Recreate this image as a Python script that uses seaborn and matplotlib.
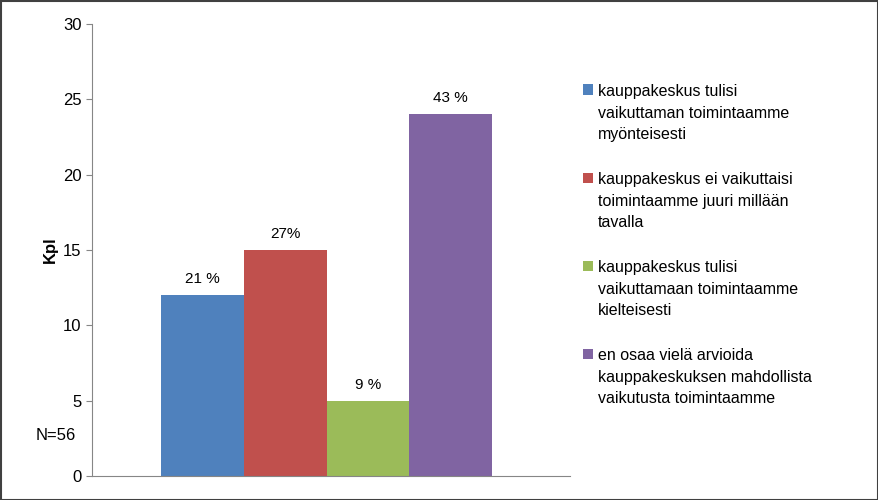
import pandas as pd
import matplotlib
matplotlib.use("Agg")
import matplotlib.pyplot as plt
import seaborn as sns

plt.rcParams["font.family"] = "Liberation Sans"

# Data
categories = [
    "kauppakeskus tulisi\nvaikuttaman toimintaamme\nmyönteisesti",
    "kauppakeskus ei vaikuttaisi\ntoimintaamme juuri millään\ntavalla",
    "kauppakeskus tulisi\nvaikuttamaan toimintaamme\nkielteisesti",
    "en osaa vielä arvioida\nkauppakeskuksen mahdollista\nvaikutusta toimintaamme",
]
counts = [12, 15, 5, 24]
pct_labels = ["21 %", "27%", "9 %", "43 %"]
colors = ["#4F81BD", "#C0504D", "#9BBB59", "#8064A2"]

df = pd.DataFrame({"cat": categories, "kpl": counts})

fig = plt.figure(figsize=(8.79, 5), dpi=100)
ax = fig.add_axes([0.1047, 0.048, 0.544, 0.904])
sns.barplot(data=df, x="cat", y="kpl", hue="cat", palette=colors,
            width=1.0, legend=False, ax=ax, saturation=1)

for i, (v, lab) in enumerate(zip(counts, pct_labels)):
    ax.text(i, v + 0.6, lab, ha="center", va="bottom", fontsize=11)

ax.set_xlim(-1.33, 4.44)
ax.set_ylim(0, 30)
ax.set_yticks(range(0, 31, 5))
ax.set_xticks([])
ax.set_xlabel("")
ax.set_ylabel("Kpl", fontsize=12, fontweight="bold")
ax.tick_params(axis="y", labelsize=12, length=4, color="#868686")
for s in ["top", "right"]:
    ax.spines[s].set_visible(False)
for s in ["left", "bottom"]:
    ax.spines[s].set_color("#868686")

fig.text(0.04, 0.12, "N=56", fontsize=12)

# legend drawn by hand: square aligned with the first line of each entry
for k, (c, lab) in enumerate(zip(colors, categories)):
    y_top = 1 - (84 + 88 * k) / 500
    fig.patches.append(plt.Rectangle((583 / 879, y_top - 0.021), 10 / 879, 10 / 500,
                                     transform=fig.transFigure, facecolor=c, edgecolor="none"))
    fig.text(598 / 879, y_top, lab, fontsize=11.5, va="top", linespacing=1.55)

# outer border of the chart area
fig.patches.append(plt.Rectangle((0.001, 0.001), 0.998, 0.998, transform=fig.transFigure,
                                 fill=False, edgecolor="#404040", linewidth=1.5))

fig.savefig("out.png", dpi=100)
